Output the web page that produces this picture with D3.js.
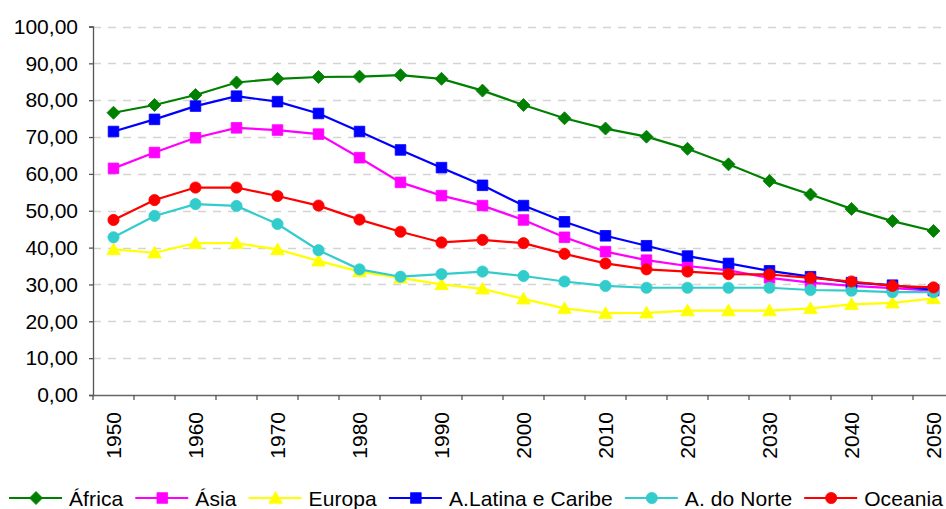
<!DOCTYPE html>
<html lang="pt">
<head>
<meta charset="UTF-8">
<title>Regiões 1950-2050</title>
<script src="https://cdnjs.cloudflare.com/ajax/libs/d3/7.8.5/d3.min.js"></script>
<style>
    body { margin: 0; overflow: hidden; background: #fff; }
    svg { display: block; font-family: "Liberation Sans", Arial, sans-serif; }
</style>
</head>
<body>
<div id="chart"></div>
<script>
// Data
const years = d3.range(1950, 2051, 5);
const labelYears = years.filter(y => y % 10 === 0);
const yTicks = d3.range(0, 101, 10);

const africa   = [76.6, 78.7, 81.4, 84.8, 85.8, 86.3, 86.4, 86.8, 85.8, 82.6, 78.7, 75.1, 72.3, 70.1, 66.8, 62.6, 58.1, 54.4, 50.5, 47.2, 44.5];
const asia     = [61.5, 65.8, 69.8, 72.5, 71.9, 70.8, 64.4, 57.7, 54.1, 51.4, 47.5, 42.8, 38.9, 36.6, 35.0, 33.8, 31.8, 30.5, 29.6, 29.0, 28.3];
const europa   = [39.5, 38.6, 41.2, 41.2, 39.5, 36.4, 33.5, 31.8, 30.0, 28.8, 26.1, 23.5, 22.2, 22.3, 22.9, 22.9, 22.9, 23.5, 24.6, 25.0, 26.2];
const latina   = [71.5, 74.8, 78.4, 81.1, 79.6, 76.4, 71.5, 66.5, 61.7, 56.9, 51.4, 47.0, 43.2, 40.5, 37.7, 35.7, 33.7, 32.1, 30.5, 29.8, 28.5];
const norte    = [42.8, 48.6, 51.8, 51.3, 46.4, 39.3, 34.1, 32.1, 32.8, 33.5, 32.3, 30.8, 29.6, 29.1, 29.1, 29.1, 29.1, 28.5, 28.3, 27.9, 27.9];
const oceania  = [47.5, 52.9, 56.3, 56.3, 54.0, 51.4, 47.6, 44.3, 41.4, 42.1, 41.2, 38.3, 35.7, 34.1, 33.5, 32.8, 32.7, 31.8, 30.8, 29.6, 29.2];

const series = [
    { name: 'África', values: africa, color: '#008000', marker: 'diamond' },
    { name: 'Ásia', values: asia, color: '#ff00ff', marker: 'square' },
    { name: 'Europa', values: europa, color: '#ffff00', marker: 'triangle' },
    { name: 'A.Latina e Caribe', values: latina, color: '#0000ff', marker: 'square' },
    { name: 'A. do Norte', values: norte, color: '#33cccc', marker: 'circle' },
    { name: 'Oceania', values: oceania, color: '#ff0000', marker: 'circle' }
];

// Dimensions
const width = 946;
const height = 509;
const plotLeft = 93, plotRight = 954, plotTop = 26.5, plotBottom = 395;

const svg = d3.select('#chart')
    .append('svg')
    .attr('width', width)
    .attr('height', height);

const x = d3.scaleBand()
    .domain(years)
    .range([plotLeft, plotRight])
    .paddingInner(0)
    .paddingOuter(0);
const cx = d => x(d) + x.bandwidth() / 2;

const y = d3.scaleLinear()
    .domain([0, 100])
    .range([plotBottom, plotTop]);

// marker shapes
function markerPath(type) {
    switch (type) {
        case 'diamond': return 'M0,-6.5L6.5,0L0,6.5L-6.5,0Z';
        case 'square': return 'M-5.3,-5.3H5.3V5.3H-5.3Z';
        case 'triangle': return 'M0,-6.5L6.8,5.2H-6.8Z';
        default: return d3.symbol(d3.symbolCircle, Math.PI * 5.6 * 5.6)();
    }
}

// Gridlines
svg.append('g')
    .selectAll('line')
    .data(yTicks.filter(d => d > 0))
    .enter()
    .append('line')
    .attr('x1', plotLeft)
    .attr('x2', plotRight)
    .attr('y1', d => Math.round(y(d)) + 0.5)
    .attr('y2', d => Math.round(y(d)) + 0.5)
    .attr('stroke', '#d4d4d4')
    .attr('stroke-width', 1.5)
    .attr('stroke-dasharray', '8,7');

// Y axis
const yAxis = svg.append('g')
    .attr('transform', `translate(${plotLeft},0)`)
    .call(d3.axisLeft(y)
        .tickValues(yTicks)
        .tickSize(4)
        .tickPadding(11)
        .tickFormat(d => d.toFixed(2).replace('.', ',')));
yAxis.selectAll('text')
    .attr('font-size', 21)
    .attr('font-family', '"Liberation Sans", Arial, sans-serif')
    .attr('fill', '#000');
yAxis.selectAll('line, path').attr('stroke', '#555').attr('stroke-width', 1.3);

// X axis labels
const xAxis = svg.append('g')
    .attr('transform', `translate(0,${plotBottom})`)
    .call(d3.axisBottom(x)
        .tickValues(labelYears)
        .tickSize(0)
        .tickSizeOuter(0));
xAxis.select('.domain').attr('stroke', '#666').attr('stroke-width', 1.5);
xAxis.selectAll('.tick text')
    .attr('font-size', 21)
    .attr('font-family', '"Liberation Sans", Arial, sans-serif')
    .attr('fill', '#000')
    .attr('transform', 'rotate(-90)')
    .attr('text-anchor', 'end')
    .attr('x', -17)
    .attr('y', 0)
    .attr('dy', '0.36em');

// category boundary ticks
svg.append('g')
    .selectAll('line')
    .data(years.concat([null]))
    .enter()
    .append('line')
    .attr('x1', d => d === null ? plotRight : x(d))
    .attr('x2', d => d === null ? plotRight : x(d))
    .attr('y1', plotBottom)
    .attr('y2', plotBottom + 5)
    .attr('stroke', '#555')
    .attr('stroke-width', 1.3);

// Lines and markers
const line = d3.line()
    .x((d, i) => cx(years[i]))
    .y(d => y(d));

series.forEach(s => {
    const g = svg.append('g');
    g.append('path')
        .datum(s.values)
        .attr('fill', 'none')
        .attr('stroke', s.color)
        .attr('stroke-width', 2.2)
        .attr('d', line);
    g.selectAll('path.marker')
        .data(s.values)
        .enter()
        .append('path')
        .attr('class', 'marker')
        .attr('transform', (d, i) => `translate(${cx(years[i])},${y(d)})`)
        .attr('d', markerPath(s.marker))
        .attr('fill', s.color)
        .attr('stroke', s.color)
        .attr('stroke-width', 0.8);
});

// Legend
const legend = svg.append('g').attr('transform', 'translate(0,498)');
let lx = 9;
series.forEach(s => {
    const item = legend.append('g').attr('transform', `translate(${lx},0)`);
    item.append('line')
        .attr('x1', 0).attr('x2', 53)
        .attr('stroke', s.color)
        .attr('stroke-width', 2.2);
    item.append('path')
        .attr('transform', 'translate(27,0)')
        .attr('d', markerPath(s.marker))
        .attr('fill', s.color)
        .attr('stroke', s.color)
        .attr('stroke-width', 0.8);
    const t = item.append('text')
        .attr('x', 60)
        .attr('y', 8)
        .attr('font-size', 21)
        .attr('letter-spacing', 0.1)
        .attr('fill', '#000')
        .text(s.name);
    lx += 60 + t.node().getComputedTextLength() + 12;
});
</script>
</body>
</html>
